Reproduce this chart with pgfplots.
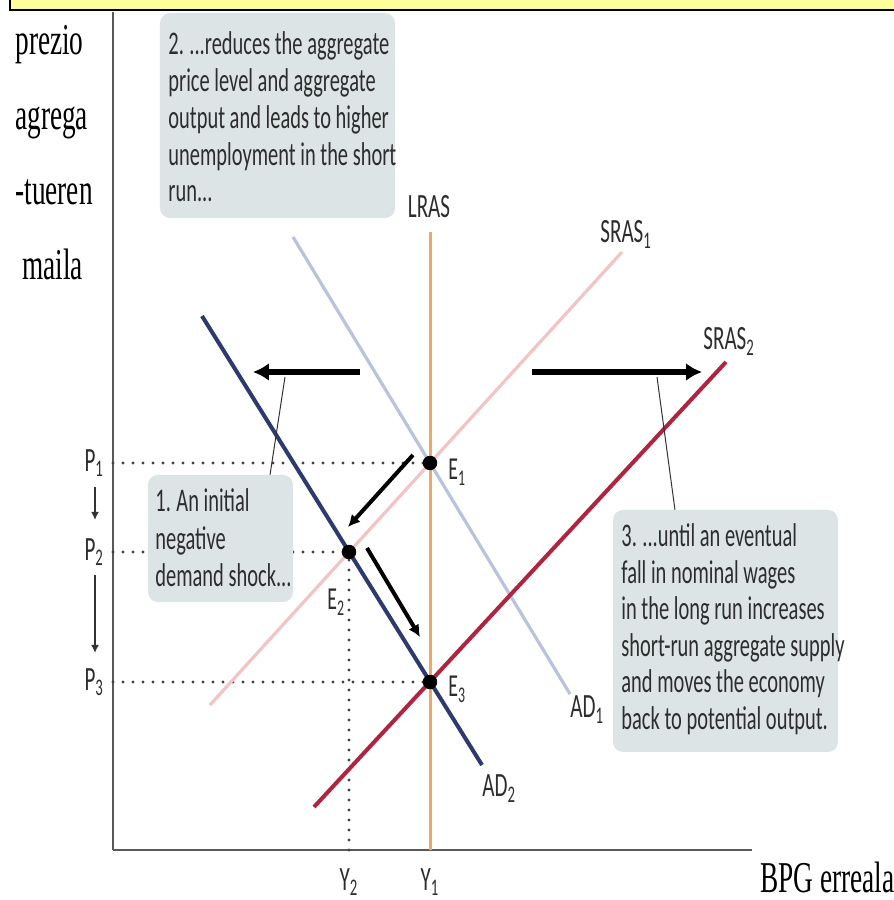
\documentclass[border=0pt]{standalone}
\usepackage{fontspec}
\usepackage{pgfplots}
\pgfplotsset{compat=1.18}
\usetikzlibrary{arrows.meta}
\newfontfamily\cond{Carlito}[FakeStretch=0.62]
\newfontfamily\ser{Liberation Serif}[FakeStretch=0.62]
\definecolor{bandyellow}{RGB}{255,255,153}
\definecolor{boxfill}{RGB}{221,228,229}
\definecolor{txtgray}{RGB}{45,45,45}
\definecolor{lrasorange}{RGB}{238,168,100}
\definecolor{adone}{RGB}{186,194,220}
\definecolor{adtwo}{RGB}{44,58,110}
\definecolor{srasone}{RGB}{242,196,196}
\definecolor{srastwo}{RGB}{176,36,64}
\newcommand{\tickfont}{\cond\fontsize{17}{20}\selectfont}
\tikzset{
  boxtxt/.style={anchor=base west, inner sep=0pt, text=txtgray, font=\cond\fontsize{16.5}{18.5}\selectfont},
  curvelbl/.style={anchor=base west, inner sep=0pt, text=txtgray, font=\cond\fontsize{17}{20}\selectfont},
  ptlbl/.style={anchor=base west, inner sep=0pt, text=txtgray, font=\cond\fontsize{16}{19}\selectfont},
  serlbl/.style={anchor=base west, inner sep=0pt, text=black, font=\ser\fontsize{22}{26}\selectfont},
  dotted guide/.style={black!75, line width=1.6pt, line cap=round, dash pattern=on 0pt off 5pt},
}

\begin{document}
\begin{tikzpicture}
\fill[white] (-56.5pt,-25pt) rectangle (390.5pt,425pt);
\path[use as bounding box] (-56.5pt,-25pt) rectangle (390.5pt,425pt);
\begin{axis}[
    at={(0,0)}, anchor=south west,
    scale only axis,
    width=319.5pt, height=419pt,
    xmin=0, xmax=639, ymin=0, ymax=838,
    axis lines=left,
    axis line style={-, draw=black!65, line width=1pt},
    xtick={236,317},
    xticklabels={{\tickfont Y\textsubscript{2}}, {\tickfont Y\textsubscript{1}}},
    ytick={168,298,387},
    yticklabels={{\tickfont P\textsubscript{3}}, {\tickfont P\textsubscript{2}}, {\tickfont P\textsubscript{1}}},
    major tick length=0pt,
    xticklabel style={text=txtgray, anchor=base, yshift=-20pt},
    yticklabel style={text=txtgray, xshift=-1pt},
    clip=false,
]

% dotted guides
\addplot[dotted guide] coordinates {(0,387) (317,387)};
\addplot[dotted guide] coordinates {(0,298) (236,298)};
\addplot[dotted guide] coordinates {(0,168) (317,168)};
\addplot[dotted guide] coordinates {(236,0) (236,298)};

% curves
\addplot[adone, line width=1.6pt] coordinates {(180,613) (457,156)};
\addplot[srasone, line width=1.6pt] coordinates {(97,145) (509,598)};
\addplot[lrasorange, line width=1.5pt] coordinates {(317,0) (317,618)};
\addplot[adtwo, line width=2pt] coordinates {(89,534) (369,85)};
\addplot[srastwo, line width=2pt] coordinates {(201,43) (613,488)};

% equilibria
\addplot[only marks, mark=*, mark size=3.4pt, black] coordinates {(317,387) (236,298) (317,168)};

% shifts
\draw[black, line width=3pt, -{Latex[length=8pt,width=9pt]}] (axis cs:247,478) -- (axis cs:140,478);
\draw[black, line width=3pt, -{Latex[length=8pt,width=9pt]}] (axis cs:419,478) -- (axis cs:589,478);
\draw[black, line width=2pt, -{Latex[length=6pt,width=6pt]}] (axis cs:300,395) -- (axis cs:235,323);
\draw[black, line width=2pt, -{Latex[length=6pt,width=6pt]}] (axis cs:254,302) -- (axis cs:307,213);
\draw[black!80, line width=0.5pt] (axis cs:172,473) -- (axis cs:157,375);
\draw[black!80, line width=0.5pt] (axis cs:544,473) -- (axis cs:562,340);
\draw[black!80, line width=1pt, -{Latex[length=4pt,width=4pt]}] (axis cs:-18,363) -- (axis cs:-18,330);
\draw[black!80, line width=1pt, -{Latex[length=4pt,width=4pt]}] (axis cs:-18,275) -- (axis cs:-18,197);

% boxes
\fill[boxfill, rounded corners=5pt] (axis cs:47,632) rectangle (axis cs:282,837);
\node[boxtxt] at (axis cs:55,795) {2.\,...reduces the aggregate};
\node[boxtxt] at (axis cs:55,758) {price level and aggregate};
\node[boxtxt] at (axis cs:55,721) {output and leads to higher};
\node[boxtxt] at (axis cs:55,684) {unemployment in the short};
\node[boxtxt] at (axis cs:55,648) {run...};

\fill[boxfill, rounded corners=5pt] (axis cs:35,248) rectangle (axis cs:180,375);
\node[boxtxt] at (axis cs:42,338) {1.\,An initial};
\node[boxtxt] at (axis cs:42,300) {negative};
\node[boxtxt] at (axis cs:42,263) {demand shock...};

\fill[boxfill, rounded corners=5pt] (axis cs:500,98) rectangle (axis cs:725,340);
\node[boxtxt] at (axis cs:508,303) {3.\,...until an eventual};
\node[boxtxt] at (axis cs:508,266.5) {fall in nominal wages};
\node[boxtxt] at (axis cs:508,230) {in the long run increases};
\node[boxtxt] at (axis cs:508,193.5) {short-run aggregate supply};
\node[boxtxt] at (axis cs:508,157) {and moves the economy};
\node[boxtxt] at (axis cs:508,120.5) {back to potential output.};

% curve labels
\node[curvelbl, anchor=center] at (axis cs:316,643) {LRAS};
\node[curvelbl] at (axis cs:487,607) {SRAS\textsubscript{1}};
\node[curvelbl] at (axis cs:590,500) {SRAS\textsubscript{2}};
\node[curvelbl] at (axis cs:457,132) {AD\textsubscript{1}};
\node[curvelbl] at (axis cs:369,53) {AD\textsubscript{2}};
\node[ptlbl] at (axis cs:335,370) {E\textsubscript{1}};
\node[ptlbl] at (axis cs:214,240) {E\textsubscript{2}};
\node[ptlbl] at (axis cs:335,153) {E\textsubscript{3}};

% axis titles
\node[serlbl] at (axis cs:-98,795) {prezio};
\node[serlbl] at (axis cs:-98,720) {agrega};
\node[serlbl] at (axis cs:-98,645) {-tueren};
\node[serlbl] at (axis cs:-91,570) {maila};
\node[serlbl] at (axis cs:647,-43) {BPG erreala};

% top band
\filldraw[fill=bandyellow, draw=black, line width=1.2pt] (axis cs:-103,840) -- (axis cs:-103,856) -- (axis cs:790,856) -- (axis cs:790,840) -- cycle;
\end{axis}
\end{tikzpicture}
\end{document}
